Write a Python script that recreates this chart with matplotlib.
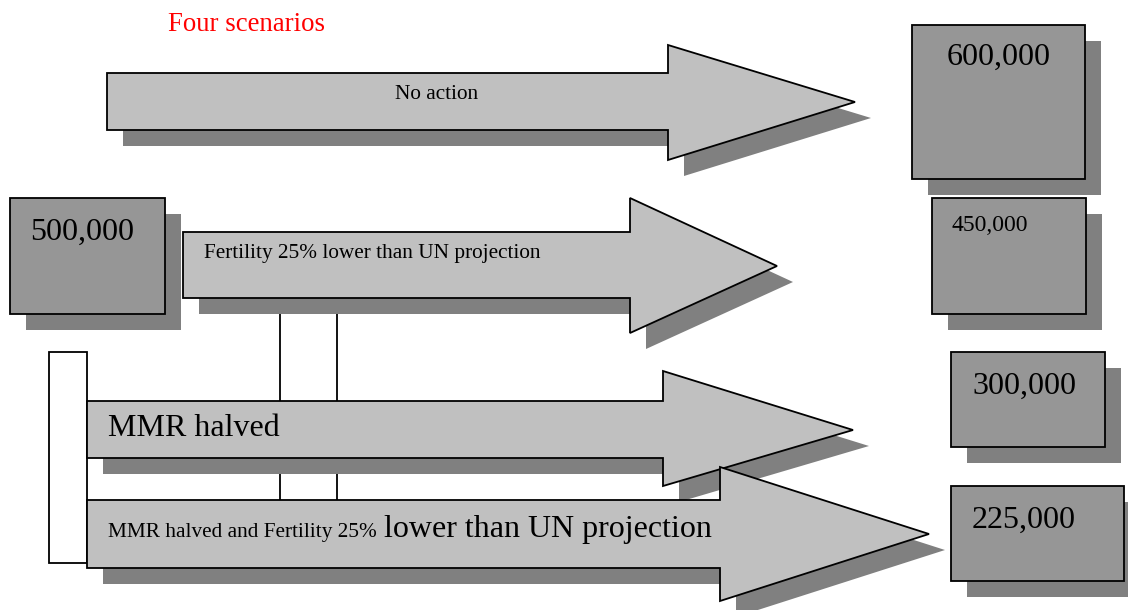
import matplotlib
matplotlib.use("Agg")
import matplotlib.pyplot as plt
from matplotlib.patches import Polygon, Rectangle

# ---- content ----
title = "Four scenarios"
start_value = "500,000"
scenarios = ["No action",
             "Fertility 25% lower than UN projection",
             "MMR halved",
             "MMR halved and Fertility 25% lower than UN projection"]
outcomes = ["600,000", "450,000", "300,000", "225,000"]

# ---- layout (pixel coordinates, y down) ----
# arrow: body x0, body top, body bottom, head x, head top, head bottom, tip x, tip y
arrows = [
    (107, 73, 130, 668, 45, 160, 855, 102),
    (183, 232, 298, 630, 198, 333, 777, 266),
    (87, 401, 458, 663, 371, 486, 853, 430),
    (87, 500, 568, 720, 467, 601, 929, 534),
]
# outcome boxes: x0, y0, x1, y1
boxes = [
    (912, 25, 1085, 179),
    (932, 198, 1086, 314),
    (951, 352, 1105, 447),
    (951, 486, 1124, 581),
]
start_box = (10, 198, 165, 314)
SH = 16  # shadow offset

ARROW_FILL = "#c0c0c0"
BOX_FILL = "#969696"
SHADOW = "#808080"
LW = 1.3

plt.rcParams['font.family'] = ['Liberation Serif', 'DejaVu Serif']

fig = plt.figure(figsize=(11.28, 6.10), dpi=100)
ax = fig.add_axes([0, 0, 1, 1])
ax.set_xlim(0, 1128)
ax.set_ylim(610, 0)
ax.axis('off')


def arrow_pts(a, dx=0, dy=0):
    x0, bt, bb, hx, ht, hb, tx, ty = a
    pts = [(x0, bt), (hx, bt), (hx, ht), (tx, ty), (hx, hb), (hx, bb), (x0, bb)]
    return [(x + dx, y + dy) for x, y in pts]


def box(b, fill, z, shadow=True):
    x0, y0, x1, y1 = b
    if shadow:
        ax.add_patch(Rectangle((x0 + SH, y0 + SH), x1 - x0, y1 - y0,
                               facecolor=SHADOW, edgecolor='none', zorder=z))
    ax.add_patch(Rectangle((x0, y0), x1 - x0, y1 - y0, facecolor=fill,
                           edgecolor='black', lw=LW, zorder=z + 0.5))


# connector lines and white bracket box (behind arrows)
for lx in (280, 337):
    ax.plot([lx, lx], [314, 500], color='black', lw=LW, zorder=1)
ax.add_patch(Rectangle((49, 352), 87 - 49, 563 - 352, facecolor='white',
                       edgecolor='black', lw=LW, zorder=1))

# arrows with shadows
for i, a in enumerate(arrows):
    z = 2 + i
    ax.add_patch(Polygon(arrow_pts(a, SH, SH), closed=True, facecolor=SHADOW,
                         edgecolor='none', zorder=z))
    ax.add_patch(Polygon(arrow_pts(a), closed=True, facecolor=ARROW_FILL,
                         edgecolor='black', lw=LW, joinstyle='miter', zorder=z + 0.5))

# boxes
box(start_box, BOX_FILL, 10)
for b in boxes:
    box(b, BOX_FILL, 10)

TZ = 20
# title
ax.text(168, 31, title, color='red', fontsize=19.3, va='baseline', ha='left', zorder=TZ)

# arrow labels
ax.text(395, 99, scenarios[0], fontsize=15.3, va='baseline', ha='left', zorder=TZ)
ax.text(204, 258, scenarios[1], fontsize=15.3, va='baseline', ha='left', zorder=TZ)
ax.text(108, 436, scenarios[2], fontsize=23, va='baseline', ha='left', zorder=TZ)
split = "MMR halved and Fertility 25% "
ax.text(108, 537, scenarios[3][:len(split)], fontsize=15.3, va='baseline',
        ha='left', zorder=TZ)
ax.text(384, 537, scenarios[3][len(split):], fontsize=23, va='baseline',
        ha='left', zorder=TZ)

# box labels
ax.text(30, 240, start_value, fontsize=23, va='baseline', ha='left', zorder=TZ)
ax.text(947, 65, outcomes[0], fontsize=23, va='baseline', ha='left', zorder=TZ)
ax.text(952, 231, outcomes[1], fontsize=17, va='baseline', ha='left', zorder=TZ)
ax.text(972, 394, outcomes[2], fontsize=23, va='baseline', ha='left', zorder=TZ)
ax.text(972, 528, outcomes[3], fontsize=23, va='baseline', ha='left', zorder=TZ)

fig.savefig("out.png", dpi=100, facecolor='white')
